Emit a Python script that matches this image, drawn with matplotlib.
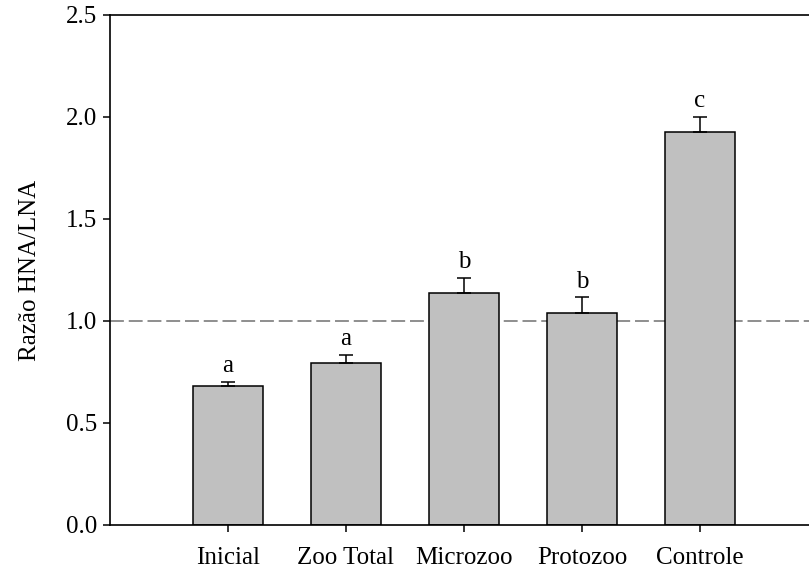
# Razão HNA/LNA por tratamento, barras com erro padrão e letras de significância

import matplotlib
matplotlib.use("Agg")
from matplotlib import pyplot as plt

# DADOS
categories = ["Inicial", "Zoo Total", "Microzoo", "Protozoo", "Controle"]
ratio = [0.681, 0.794, 1.136, 1.038, 1.925]
error = [0.020, 0.039, 0.075, 0.078, 0.076]
letters = ["a", "a", "b", "b", "c"]
yticks = [0.0, 0.5, 1.0, 1.5, 2.0, 2.5]

plt.rcParams["font.family"] = ["Liberation Serif", "DejaVu Serif"]
plt.rcParams["font.size"] = 18
plt.rcParams["lines.scale_dashes"] = False

fig = plt.figure(figsize=(8.09, 5.72), dpi=100)
# the right side of the axes runs past the figure edge, as in the original crop
ax = fig.add_axes([0.136, 0.0822, 0.875, 0.8916])

x = list(range(len(categories)))
ax.bar(x, ratio, width=0.6, color="#c0c0c0", edgecolor="black", linewidth=1.1, zorder=2)
ax.errorbar(x, ratio, yerr=[[0] * len(error), error], fmt="none", ecolor="black",
            elinewidth=1.1, capsize=5, capthick=1.1, zorder=3)

for xi, v, e, t in zip(x, ratio, error, letters):
    ax.annotate(t, (xi, v + e), xytext=(0, 7), textcoords="offset points",
                ha="center", va="baseline", fontsize=18)

ax.axhline(1.0, color="#707070", linewidth=1.1, dashes=(10, 3.5), zorder=1)

ax.set_xlim(-1, 5)
ax.set_ylim(0, 2.5)
ax.set_yticks(yticks)
ax.set_yticklabels([f"{t:.1f}" for t in yticks])
ax.set_xticks(x)
ax.set_xticklabels(categories)
ax.set_ylabel("Razão HNA/LNA", labelpad=18)

ax.spines["right"].set_visible(False)
for s in ["left", "bottom", "top"]:
    ax.spines[s].set_linewidth(1.2)
ax.tick_params(direction="out", length=5, width=1.1, pad=4)
ax.tick_params(axis="x", pad=11)

fig.savefig("out.png", dpi=100)
